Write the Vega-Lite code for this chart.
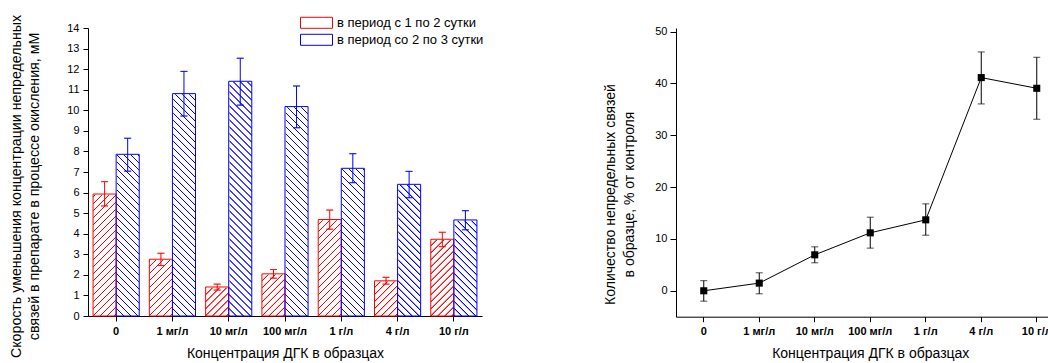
{
  "$schema": "https://vega.github.io/schema/vega-lite/v6.json",
  "padding": {"left": 9, "top": 14, "right": -12, "bottom": 0},
  "autosize": {"type": "pad"},
  "spacing": 121,
  "config": {
    "font": "Liberation Sans",
    "view": {"stroke": null},
    "axis": {
      "domainColor": "#000", "tickColor": "#000", "labelColor": "#000", "titleColor": "#000",
      "grid": false, "labelFont": "Liberation Sans", "titleFont": "Liberation Sans",
      "titleFontWeight": "normal", "domainWidth": 1, "tickWidth": 1, "labelOverlap": false
    }
  },
  "params": [
    {"name": "hatchRed", "value": {"gradient": "linear", "x1": 0, "y1": 0, "x2": 0.08708, "y2": 1.08677, "stops": [
      {"offset":0,"color":"#fff"},{"offset":0.0013,"color":"#f00"},{"offset":0.0038,"color":"#f00"},{"offset":0.0051,"color":"#fff"},
      {"offset":0.02222,"color":"#fff"},{"offset":0.02352,"color":"#f00"},{"offset":0.02602,"color":"#f00"},{"offset":0.02732,"color":"#fff"},
      {"offset":0.04444,"color":"#fff"},{"offset":0.04574,"color":"#f00"},{"offset":0.04824,"color":"#f00"},{"offset":0.04954,"color":"#fff"},
      {"offset":0.06667,"color":"#fff"},{"offset":0.06797,"color":"#f00"},{"offset":0.07047,"color":"#f00"},{"offset":0.07177,"color":"#fff"},
      {"offset":0.08889,"color":"#fff"},{"offset":0.09019,"color":"#f00"},{"offset":0.09269,"color":"#f00"},{"offset":0.09399,"color":"#fff"},
      {"offset":0.11111,"color":"#fff"},{"offset":0.11241,"color":"#f00"},{"offset":0.11491,"color":"#f00"},{"offset":0.11621,"color":"#fff"},
      {"offset":0.13333,"color":"#fff"},{"offset":0.13463,"color":"#f00"},{"offset":0.13713,"color":"#f00"},{"offset":0.13843,"color":"#fff"},
      {"offset":0.15556,"color":"#fff"},{"offset":0.15686,"color":"#f00"},{"offset":0.15936,"color":"#f00"},{"offset":0.16066,"color":"#fff"},
      {"offset":0.17778,"color":"#fff"},{"offset":0.17908,"color":"#f00"},{"offset":0.18158,"color":"#f00"},{"offset":0.18288,"color":"#fff"},
      {"offset":0.2,"color":"#fff"},{"offset":0.2013,"color":"#f00"},{"offset":0.2038,"color":"#f00"},{"offset":0.2051,"color":"#fff"},
      {"offset":0.22222,"color":"#fff"},{"offset":0.22352,"color":"#f00"},{"offset":0.22602,"color":"#f00"},{"offset":0.22732,"color":"#fff"},
      {"offset":0.24444,"color":"#fff"},{"offset":0.24574,"color":"#f00"},{"offset":0.24824,"color":"#f00"},{"offset":0.24954,"color":"#fff"},
      {"offset":0.26667,"color":"#fff"},{"offset":0.26797,"color":"#f00"},{"offset":0.27047,"color":"#f00"},{"offset":0.27177,"color":"#fff"},
      {"offset":0.28889,"color":"#fff"},{"offset":0.29019,"color":"#f00"},{"offset":0.29269,"color":"#f00"},{"offset":0.29399,"color":"#fff"},
      {"offset":0.31111,"color":"#fff"},{"offset":0.31241,"color":"#f00"},{"offset":0.31491,"color":"#f00"},{"offset":0.31621,"color":"#fff"},
      {"offset":0.33333,"color":"#fff"},{"offset":0.33463,"color":"#f00"},{"offset":0.33713,"color":"#f00"},{"offset":0.33843,"color":"#fff"},
      {"offset":0.35556,"color":"#fff"},{"offset":0.35686,"color":"#f00"},{"offset":0.35936,"color":"#f00"},{"offset":0.36066,"color":"#fff"},
      {"offset":0.37778,"color":"#fff"},{"offset":0.37908,"color":"#f00"},{"offset":0.38158,"color":"#f00"},{"offset":0.38288,"color":"#fff"},
      {"offset":0.4,"color":"#fff"},{"offset":0.4013,"color":"#f00"},{"offset":0.4038,"color":"#f00"},{"offset":0.4051,"color":"#fff"},
      {"offset":0.42222,"color":"#fff"},{"offset":0.42352,"color":"#f00"},{"offset":0.42602,"color":"#f00"},{"offset":0.42732,"color":"#fff"},
      {"offset":0.44444,"color":"#fff"},{"offset":0.44574,"color":"#f00"},{"offset":0.44824,"color":"#f00"},{"offset":0.44954,"color":"#fff"},
      {"offset":0.46667,"color":"#fff"},{"offset":0.46797,"color":"#f00"},{"offset":0.47047,"color":"#f00"},{"offset":0.47177,"color":"#fff"},
      {"offset":0.48889,"color":"#fff"},{"offset":0.49019,"color":"#f00"},{"offset":0.49269,"color":"#f00"},{"offset":0.49399,"color":"#fff"},
      {"offset":0.51111,"color":"#fff"},{"offset":0.51241,"color":"#f00"},{"offset":0.51491,"color":"#f00"},{"offset":0.51621,"color":"#fff"},
      {"offset":0.53333,"color":"#fff"},{"offset":0.53463,"color":"#f00"},{"offset":0.53713,"color":"#f00"},{"offset":0.53843,"color":"#fff"},
      {"offset":0.55556,"color":"#fff"},{"offset":0.55686,"color":"#f00"},{"offset":0.55936,"color":"#f00"},{"offset":0.56066,"color":"#fff"},
      {"offset":0.57778,"color":"#fff"},{"offset":0.57908,"color":"#f00"},{"offset":0.58158,"color":"#f00"},{"offset":0.58288,"color":"#fff"},
      {"offset":0.6,"color":"#fff"},{"offset":0.6013,"color":"#f00"},{"offset":0.6038,"color":"#f00"},{"offset":0.6051,"color":"#fff"},
      {"offset":0.62222,"color":"#fff"},{"offset":0.62352,"color":"#f00"},{"offset":0.62602,"color":"#f00"},{"offset":0.62732,"color":"#fff"},
      {"offset":0.64444,"color":"#fff"},{"offset":0.64574,"color":"#f00"},{"offset":0.64824,"color":"#f00"},{"offset":0.64954,"color":"#fff"},
      {"offset":0.66667,"color":"#fff"},{"offset":0.66797,"color":"#f00"},{"offset":0.67047,"color":"#f00"},{"offset":0.67177,"color":"#fff"},
      {"offset":0.68889,"color":"#fff"},{"offset":0.69019,"color":"#f00"},{"offset":0.69269,"color":"#f00"},{"offset":0.69399,"color":"#fff"},
      {"offset":0.71111,"color":"#fff"},{"offset":0.71241,"color":"#f00"},{"offset":0.71491,"color":"#f00"},{"offset":0.71621,"color":"#fff"},
      {"offset":0.73333,"color":"#fff"},{"offset":0.73463,"color":"#f00"},{"offset":0.73713,"color":"#f00"},{"offset":0.73843,"color":"#fff"},
      {"offset":0.75556,"color":"#fff"},{"offset":0.75686,"color":"#f00"},{"offset":0.75936,"color":"#f00"},{"offset":0.76066,"color":"#fff"},
      {"offset":0.77778,"color":"#fff"},{"offset":0.77908,"color":"#f00"},{"offset":0.78158,"color":"#f00"},{"offset":0.78288,"color":"#fff"},
      {"offset":0.8,"color":"#fff"},{"offset":0.8013,"color":"#f00"},{"offset":0.8038,"color":"#f00"},{"offset":0.8051,"color":"#fff"},
      {"offset":0.82222,"color":"#fff"},{"offset":0.82352,"color":"#f00"},{"offset":0.82602,"color":"#f00"},{"offset":0.82732,"color":"#fff"},
      {"offset":0.84444,"color":"#fff"},{"offset":0.84574,"color":"#f00"},{"offset":0.84824,"color":"#f00"},{"offset":0.84954,"color":"#fff"},
      {"offset":0.86667,"color":"#fff"},{"offset":0.86797,"color":"#f00"},{"offset":0.87047,"color":"#f00"},{"offset":0.87177,"color":"#fff"},
      {"offset":0.88889,"color":"#fff"},{"offset":0.89019,"color":"#f00"},{"offset":0.89269,"color":"#f00"},{"offset":0.89399,"color":"#fff"},
      {"offset":0.91111,"color":"#fff"},{"offset":0.91241,"color":"#f00"},{"offset":0.91491,"color":"#f00"},{"offset":0.91621,"color":"#fff"},
      {"offset":0.93333,"color":"#fff"},{"offset":0.93463,"color":"#f00"},{"offset":0.93713,"color":"#f00"},{"offset":0.93843,"color":"#fff"},
      {"offset":0.95556,"color":"#fff"},{"offset":0.95686,"color":"#f00"},{"offset":0.95936,"color":"#f00"},{"offset":0.96066,"color":"#fff"},
      {"offset":0.97778,"color":"#fff"},{"offset":0.97908,"color":"#f00"},{"offset":0.98158,"color":"#f00"},{"offset":0.98288,"color":"#fff"},
      {"offset":1,"color":"#fff"}
    ]}},
    {"name": "hatchBlue", "value": {"gradient": "linear", "x1": 0, "y1": 1, "x2": 0.08708, "y2": -0.08677, "stops": [
      {"offset":0,"color":"#fff"},{"offset":0.0013,"color":"#00f"},{"offset":0.0038,"color":"#00f"},{"offset":0.0051,"color":"#fff"},
      {"offset":0.02222,"color":"#fff"},{"offset":0.02352,"color":"#00f"},{"offset":0.02602,"color":"#00f"},{"offset":0.02732,"color":"#fff"},
      {"offset":0.04444,"color":"#fff"},{"offset":0.04574,"color":"#00f"},{"offset":0.04824,"color":"#00f"},{"offset":0.04954,"color":"#fff"},
      {"offset":0.06667,"color":"#fff"},{"offset":0.06797,"color":"#00f"},{"offset":0.07047,"color":"#00f"},{"offset":0.07177,"color":"#fff"},
      {"offset":0.08889,"color":"#fff"},{"offset":0.09019,"color":"#00f"},{"offset":0.09269,"color":"#00f"},{"offset":0.09399,"color":"#fff"},
      {"offset":0.11111,"color":"#fff"},{"offset":0.11241,"color":"#00f"},{"offset":0.11491,"color":"#00f"},{"offset":0.11621,"color":"#fff"},
      {"offset":0.13333,"color":"#fff"},{"offset":0.13463,"color":"#00f"},{"offset":0.13713,"color":"#00f"},{"offset":0.13843,"color":"#fff"},
      {"offset":0.15556,"color":"#fff"},{"offset":0.15686,"color":"#00f"},{"offset":0.15936,"color":"#00f"},{"offset":0.16066,"color":"#fff"},
      {"offset":0.17778,"color":"#fff"},{"offset":0.17908,"color":"#00f"},{"offset":0.18158,"color":"#00f"},{"offset":0.18288,"color":"#fff"},
      {"offset":0.2,"color":"#fff"},{"offset":0.2013,"color":"#00f"},{"offset":0.2038,"color":"#00f"},{"offset":0.2051,"color":"#fff"},
      {"offset":0.22222,"color":"#fff"},{"offset":0.22352,"color":"#00f"},{"offset":0.22602,"color":"#00f"},{"offset":0.22732,"color":"#fff"},
      {"offset":0.24444,"color":"#fff"},{"offset":0.24574,"color":"#00f"},{"offset":0.24824,"color":"#00f"},{"offset":0.24954,"color":"#fff"},
      {"offset":0.26667,"color":"#fff"},{"offset":0.26797,"color":"#00f"},{"offset":0.27047,"color":"#00f"},{"offset":0.27177,"color":"#fff"},
      {"offset":0.28889,"color":"#fff"},{"offset":0.29019,"color":"#00f"},{"offset":0.29269,"color":"#00f"},{"offset":0.29399,"color":"#fff"},
      {"offset":0.31111,"color":"#fff"},{"offset":0.31241,"color":"#00f"},{"offset":0.31491,"color":"#00f"},{"offset":0.31621,"color":"#fff"},
      {"offset":0.33333,"color":"#fff"},{"offset":0.33463,"color":"#00f"},{"offset":0.33713,"color":"#00f"},{"offset":0.33843,"color":"#fff"},
      {"offset":0.35556,"color":"#fff"},{"offset":0.35686,"color":"#00f"},{"offset":0.35936,"color":"#00f"},{"offset":0.36066,"color":"#fff"},
      {"offset":0.37778,"color":"#fff"},{"offset":0.37908,"color":"#00f"},{"offset":0.38158,"color":"#00f"},{"offset":0.38288,"color":"#fff"},
      {"offset":0.4,"color":"#fff"},{"offset":0.4013,"color":"#00f"},{"offset":0.4038,"color":"#00f"},{"offset":0.4051,"color":"#fff"},
      {"offset":0.42222,"color":"#fff"},{"offset":0.42352,"color":"#00f"},{"offset":0.42602,"color":"#00f"},{"offset":0.42732,"color":"#fff"},
      {"offset":0.44444,"color":"#fff"},{"offset":0.44574,"color":"#00f"},{"offset":0.44824,"color":"#00f"},{"offset":0.44954,"color":"#fff"},
      {"offset":0.46667,"color":"#fff"},{"offset":0.46797,"color":"#00f"},{"offset":0.47047,"color":"#00f"},{"offset":0.47177,"color":"#fff"},
      {"offset":0.48889,"color":"#fff"},{"offset":0.49019,"color":"#00f"},{"offset":0.49269,"color":"#00f"},{"offset":0.49399,"color":"#fff"},
      {"offset":0.51111,"color":"#fff"},{"offset":0.51241,"color":"#00f"},{"offset":0.51491,"color":"#00f"},{"offset":0.51621,"color":"#fff"},
      {"offset":0.53333,"color":"#fff"},{"offset":0.53463,"color":"#00f"},{"offset":0.53713,"color":"#00f"},{"offset":0.53843,"color":"#fff"},
      {"offset":0.55556,"color":"#fff"},{"offset":0.55686,"color":"#00f"},{"offset":0.55936,"color":"#00f"},{"offset":0.56066,"color":"#fff"},
      {"offset":0.57778,"color":"#fff"},{"offset":0.57908,"color":"#00f"},{"offset":0.58158,"color":"#00f"},{"offset":0.58288,"color":"#fff"},
      {"offset":0.6,"color":"#fff"},{"offset":0.6013,"color":"#00f"},{"offset":0.6038,"color":"#00f"},{"offset":0.6051,"color":"#fff"},
      {"offset":0.62222,"color":"#fff"},{"offset":0.62352,"color":"#00f"},{"offset":0.62602,"color":"#00f"},{"offset":0.62732,"color":"#fff"},
      {"offset":0.64444,"color":"#fff"},{"offset":0.64574,"color":"#00f"},{"offset":0.64824,"color":"#00f"},{"offset":0.64954,"color":"#fff"},
      {"offset":0.66667,"color":"#fff"},{"offset":0.66797,"color":"#00f"},{"offset":0.67047,"color":"#00f"},{"offset":0.67177,"color":"#fff"},
      {"offset":0.68889,"color":"#fff"},{"offset":0.69019,"color":"#00f"},{"offset":0.69269,"color":"#00f"},{"offset":0.69399,"color":"#fff"},
      {"offset":0.71111,"color":"#fff"},{"offset":0.71241,"color":"#00f"},{"offset":0.71491,"color":"#00f"},{"offset":0.71621,"color":"#fff"},
      {"offset":0.73333,"color":"#fff"},{"offset":0.73463,"color":"#00f"},{"offset":0.73713,"color":"#00f"},{"offset":0.73843,"color":"#fff"},
      {"offset":0.75556,"color":"#fff"},{"offset":0.75686,"color":"#00f"},{"offset":0.75936,"color":"#00f"},{"offset":0.76066,"color":"#fff"},
      {"offset":0.77778,"color":"#fff"},{"offset":0.77908,"color":"#00f"},{"offset":0.78158,"color":"#00f"},{"offset":0.78288,"color":"#fff"},
      {"offset":0.8,"color":"#fff"},{"offset":0.8013,"color":"#00f"},{"offset":0.8038,"color":"#00f"},{"offset":0.8051,"color":"#fff"},
      {"offset":0.82222,"color":"#fff"},{"offset":0.82352,"color":"#00f"},{"offset":0.82602,"color":"#00f"},{"offset":0.82732,"color":"#fff"},
      {"offset":0.84444,"color":"#fff"},{"offset":0.84574,"color":"#00f"},{"offset":0.84824,"color":"#00f"},{"offset":0.84954,"color":"#fff"},
      {"offset":0.86667,"color":"#fff"},{"offset":0.86797,"color":"#00f"},{"offset":0.87047,"color":"#00f"},{"offset":0.87177,"color":"#fff"},
      {"offset":0.88889,"color":"#fff"},{"offset":0.89019,"color":"#00f"},{"offset":0.89269,"color":"#00f"},{"offset":0.89399,"color":"#fff"},
      {"offset":0.91111,"color":"#fff"},{"offset":0.91241,"color":"#00f"},{"offset":0.91491,"color":"#00f"},{"offset":0.91621,"color":"#fff"},
      {"offset":0.93333,"color":"#fff"},{"offset":0.93463,"color":"#00f"},{"offset":0.93713,"color":"#00f"},{"offset":0.93843,"color":"#fff"},
      {"offset":0.95556,"color":"#fff"},{"offset":0.95686,"color":"#00f"},{"offset":0.95936,"color":"#00f"},{"offset":0.96066,"color":"#fff"},
      {"offset":0.97778,"color":"#fff"},{"offset":0.97908,"color":"#00f"},{"offset":0.98158,"color":"#00f"},{"offset":0.98288,"color":"#fff"},
      {"offset":1,"color":"#fff"}
    ]}}
  ],
  "datasets": {
    "rates": [
      {"cat": "0", "period": "в период с 1 по 2 сутки", "value": 5.93, "lo": 5.35, "hi": 6.53},
      {"cat": "0", "period": "в период со 2 по 3 сутки", "value": 7.86, "lo": 7.04, "hi": 8.64},
      {"cat": "1 мг/л", "period": "в период с 1 по 2 сутки", "value": 2.76, "lo": 2.45, "hi": 3.05},
      {"cat": "1 мг/л", "period": "в период со 2 по 3 сутки", "value": 10.81, "lo": 9.72, "hi": 11.89},
      {"cat": "10 мг/л", "period": "в период с 1 по 2 сутки", "value": 1.41, "lo": 1.26, "hi": 1.55},
      {"cat": "10 мг/л", "period": "в период со 2 по 3 сутки", "value": 11.41, "lo": 10.25, "hi": 12.53},
      {"cat": "100 мг/л", "period": "в период с 1 по 2 сутки", "value": 2.05, "lo": 1.84, "hi": 2.26},
      {"cat": "100 мг/л", "period": "в период со 2 по 3 сутки", "value": 10.18, "lo": 9.15, "hi": 11.18},
      {"cat": "1 г/л", "period": "в период с 1 по 2 сутки", "value": 4.69, "lo": 4.22, "hi": 5.15},
      {"cat": "1 г/л", "period": "в период со 2 по 3 сутки", "value": 7.18, "lo": 6.48, "hi": 7.89},
      {"cat": "4 г/л", "period": "в период с 1 по 2 сутки", "value": 1.71, "lo": 1.55, "hi": 1.88},
      {"cat": "4 г/л", "period": "в период со 2 по 3 сутки", "value": 6.4, "lo": 5.75, "hi": 7.03},
      {"cat": "10 г/л", "period": "в период с 1 по 2 сутки", "value": 3.73, "lo": 3.37, "hi": 4.07},
      {"cat": "10 г/л", "period": "в период со 2 по 3 сутки", "value": 4.67, "lo": 4.19, "hi": 5.12}
    ],
    "share": [
      {"cat": "0", "value": 0, "lo": -2, "hi": 1.95},
      {"cat": "1 мг/л", "value": 1.48, "lo": -0.58, "hi": 3.47},
      {"cat": "10 мг/л", "value": 6.94, "lo": 5.4, "hi": 8.48},
      {"cat": "100 мг/л", "value": 11.18, "lo": 8.23, "hi": 14.2},
      {"cat": "1 г/л", "value": 13.69, "lo": 10.73, "hi": 16.77},
      {"cat": "4 г/л", "value": 41.13, "lo": 36.05, "hi": 46.08},
      {"cat": "10 г/л", "value": 39.07, "lo": 33.1, "hi": 45.05}
    ]
  },
  "hconcat": [
    {
      "width": 394,
      "height": 288,
      "data": {"name": "rates"},
      "encoding": {
        "x": {
          "field": "cat", "type": "nominal",
          "sort": ["0", "1 мг/л", "10 мг/л", "100 мг/л", "1 г/л", "4 г/л", "10 г/л"],
          "scale": {"paddingInner": 0.18, "paddingOuter": 0.09},
          "title": "Концентрация ДГК в образцах",
          "axis": {"labelAngle": 0, "labelFontWeight": "bold", "labelFontSize": 11, "labelPadding": 4, "tickSize": 5, "titleFontSize": 14, "titlePadding": 10}
        },
        "xOffset": {
          "field": "period", "type": "nominal",
          "sort": ["в период с 1 по 2 сутки", "в период со 2 по 3 сутки"],
          "scale": {"paddingInner": 0, "paddingOuter": 0}
        }
      },
      "layer": [
        {
          "transform": [{"filter": "datum.period === 'в период с 1 по 2 сутки'"}],
          "mark": {"type": "bar", "fill": {"expr": "hatchRed"}, "strokeWidth": 0},
          "encoding": {"y": {"datum": 14, "type": "quantitative"}, "y2": {"datum": 0}}
        },
        {
          "transform": [{"filter": "datum.period === 'в период со 2 по 3 сутки'"}],
          "mark": {"type": "bar", "fill": {"expr": "hatchBlue"}, "strokeWidth": 0},
          "encoding": {"y": {"datum": 14, "type": "quantitative"}, "y2": {"datum": 0}}
        },
        {
          "mark": {"type": "bar", "fill": "#fff", "stroke": "#fff", "strokeWidth": 1.5},
          "encoding": {
            "y": {"field": "value", "type": "quantitative", "axis": {"values": [0,1,2,3,4,5,6,7,8,9,10,11,12,13,14], "tickCount": 15, "labelOverlap": false, "tickSize": 5, "labelFontSize": 11, "labelPadding": 4, "titleFontSize": 14.2, "titleLineHeight": 18, "titlePadding": 25, "titleY": 158}},
            "y2": {"datum": 14}
          }
        },
        {
          "mark": {"type": "bar", "filled": false, "strokeWidth": 1},
          "encoding": {
            "y": {
              "field": "value", "type": "quantitative",
              "scale": {"domain": [0, 14], "nice": false},
              "title": ["Скорость уменьшения концентрации непредельных", "связей в препарате в процессе окисления, мМ"],
              "axis": {"values": [0,1,2,3,4,5,6,7,8,9,10,11,12,13,14], "tickCount": 15, "labelOverlap": false, "tickSize": 5, "labelFontSize": 11, "labelPadding": 4, "titleFontSize": 14.2, "titleLineHeight": 18, "titlePadding": 25, "titleY": 158}
            },
            "color": {
              "field": "period", "type": "nominal",
              "scale": {"domain": ["в период с 1 по 2 сутки", "в период со 2 по 3 сутки"], "range": ["#ff0000", "#0000ff"]},
              "legend": {
                "orient": "none", "legendX": 220, "legendY": -13.7, "title": null, "padding": 0,
                "symbolType": "M-2,-0.688H2V0.688H-2Z", "symbolSize": 256, "symbolStrokeWidth": 1,
                "labelFont": "Liberation Sans", "labelFontSize": 13, "labelColor": "#000", "labelOffset": 12, "rowPadding": 0,
                "encode": {"symbols": {
                  "fillOpacity": {"value": 1},
                  "fill": {
                    "condition": {"test": "datum.value === 'в период с 1 по 2 сутки'", "value": {"gradient": "linear", "x1": 0, "y1": 0, "x2": 1.3694, "y2": 0.4707, "stops": [
                      {"offset":0,"color":"#fff"},{"offset":0.0082,"color":"#f00"},{"offset":0.0245,"color":"#f00"},{"offset":0.0327,"color":"#fff"},
                      {"offset":0.14286,"color":"#fff"},{"offset":0.15106,"color":"#f00"},{"offset":0.16736,"color":"#f00"},{"offset":0.17556,"color":"#fff"},
                      {"offset":0.28571,"color":"#fff"},{"offset":0.29391,"color":"#f00"},{"offset":0.31021,"color":"#f00"},{"offset":0.31841,"color":"#fff"},
                      {"offset":0.42857,"color":"#fff"},{"offset":0.43677,"color":"#f00"},{"offset":0.45307,"color":"#f00"},{"offset":0.46127,"color":"#fff"},
                      {"offset":0.57143,"color":"#fff"},{"offset":0.57963,"color":"#f00"},{"offset":0.59593,"color":"#f00"},{"offset":0.60413,"color":"#fff"},
                      {"offset":0.71429,"color":"#fff"},{"offset":0.72249,"color":"#f00"},{"offset":0.73879,"color":"#f00"},{"offset":0.74699,"color":"#fff"},
                      {"offset":0.85714,"color":"#fff"},{"offset":0.86534,"color":"#f00"},{"offset":0.88164,"color":"#f00"},{"offset":0.88984,"color":"#fff"},
                      {"offset":1,"color":"#fff"}
                    ]}},
                    "value": {"gradient": "linear", "x1": 0, "y1": 1, "x2": 1.3694, "y2": 0.5293, "stops": [
                      {"offset":0,"color":"#fff"},{"offset":0.0082,"color":"#00f"},{"offset":0.0245,"color":"#00f"},{"offset":0.0327,"color":"#fff"},
                      {"offset":0.14286,"color":"#fff"},{"offset":0.15106,"color":"#00f"},{"offset":0.16736,"color":"#00f"},{"offset":0.17556,"color":"#fff"},
                      {"offset":0.28571,"color":"#fff"},{"offset":0.29391,"color":"#00f"},{"offset":0.31021,"color":"#00f"},{"offset":0.31841,"color":"#fff"},
                      {"offset":0.42857,"color":"#fff"},{"offset":0.43677,"color":"#00f"},{"offset":0.45307,"color":"#00f"},{"offset":0.46127,"color":"#fff"},
                      {"offset":0.57143,"color":"#fff"},{"offset":0.57963,"color":"#00f"},{"offset":0.59593,"color":"#00f"},{"offset":0.60413,"color":"#fff"},
                      {"offset":0.71429,"color":"#fff"},{"offset":0.72249,"color":"#00f"},{"offset":0.73879,"color":"#00f"},{"offset":0.74699,"color":"#fff"},
                      {"offset":0.85714,"color":"#fff"},{"offset":0.86534,"color":"#00f"},{"offset":0.88164,"color":"#00f"},{"offset":0.88984,"color":"#fff"},
                      {"offset":1,"color":"#fff"}
                    ]}
                  }
                }}
              }
            }
          }
        },
        {
          "mark": {"type": "rule", "strokeWidth": 1},
          "encoding": {
            "y": {"field": "lo", "type": "quantitative", "axis": {"values": [0,1,2,3,4,5,6,7,8,9,10,11,12,13,14], "tickCount": 15, "labelOverlap": false, "tickSize": 5, "labelFontSize": 11, "labelPadding": 4, "titleFontSize": 14.2, "titleLineHeight": 18, "titlePadding": 25, "titleY": 158}},
            "y2": {"field": "hi"},
            "color": {"field": "period", "type": "nominal"}
          }
        },
        {
          "mark": {"type": "tick", "filled": false, "size": 7, "thickness": 0, "strokeWidth": 1},
          "encoding": {
            "y": {"field": "lo", "type": "quantitative", "axis": {"values": [0,1,2,3,4,5,6,7,8,9,10,11,12,13,14], "tickCount": 15, "labelOverlap": false, "tickSize": 5, "labelFontSize": 11, "labelPadding": 4, "titleFontSize": 14.2, "titleLineHeight": 18, "titlePadding": 25, "titleY": 158}},
            "color": {"field": "period", "type": "nominal"}
          }
        },
        {
          "mark": {"type": "tick", "filled": false, "size": 7, "thickness": 0, "strokeWidth": 1},
          "encoding": {
            "y": {"field": "hi", "type": "quantitative", "axis": {"values": [0,1,2,3,4,5,6,7,8,9,10,11,12,13,14], "tickCount": 15, "labelOverlap": false, "tickSize": 5, "labelFontSize": 11, "labelPadding": 4, "titleFontSize": 14.2, "titleLineHeight": 18, "titlePadding": 25, "titleY": 158}},
            "color": {"field": "period", "type": "nominal"}
          }
        }
      ]
    },
    {
      "width": 388.5,
      "height": 288.7,
      "data": {"name": "share"},
      "encoding": {
        "x": {
          "field": "cat", "type": "nominal",
          "sort": ["0", "1 мг/л", "10 мг/л", "100 мг/л", "1 г/л", "4 г/л", "10 г/л"],
          "scale": {"paddingInner": 0, "paddingOuter": 0},
          "title": "Концентрация ДГК в образцах",
          "axis": {"labelAngle": 0, "labelFontWeight": "bold", "labelFontSize": 11, "labelPadding": 4, "tickSize": 5, "titleFontSize": 14, "titlePadding": 10}
        }
      },
      "layer": [
        {
          "mark": {"type": "rule", "color": "#000", "strokeWidth": 1},
          "encoding": {
            "y": {
              "field": "lo", "type": "quantitative",
              "scale": {"domain": [-5, 50.7], "nice": false},
              "title": ["Количество непредельных связей", "в образце, % от контроля"],
              "axis": {"values": [0, 10, 20, 30, 40, 50], "tickSize": 6, "labelFontSize": 11, "labelPadding": 3, "titleFontSize": 14, "titleLineHeight": 19, "titlePadding": 18, "titleY": 166}
            },
            "y2": {"field": "hi"}
          }
        },
        {
          "mark": {"type": "tick", "color": "#000", "size": 7, "thickness": 1},
          "encoding": {"y": {"field": "lo", "type": "quantitative"}}
        },
        {
          "mark": {"type": "tick", "color": "#000", "size": 7, "thickness": 1},
          "encoding": {"y": {"field": "hi", "type": "quantitative"}}
        },
        {
          "mark": {"type": "line", "color": "#000", "strokeWidth": 1},
          "encoding": {"y": {"field": "value", "type": "quantitative"}, "order": {"value": null}}
        },
        {
          "mark": {"type": "point", "shape": "square", "filled": true, "size": 50, "color": "#000", "opacity": 1},
          "encoding": {"y": {"field": "value", "type": "quantitative"}}
        }
      ]
    }
  ]
}
